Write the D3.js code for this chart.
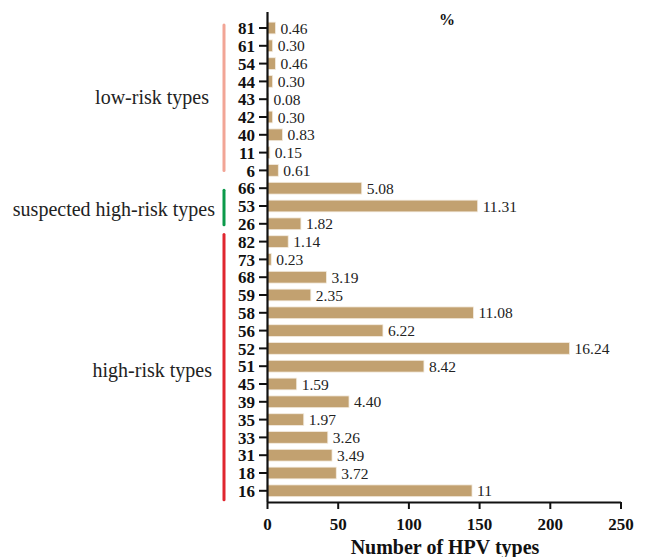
<!DOCTYPE html>
<html><head><meta charset="utf-8">
<script src="https://cdn.jsdelivr.net/npm/d3@7"></script>
<style>body{margin:0;background:#fff}svg{display:block}</style>
</head><body>
<svg id="c" width="646" height="557"></svg>
<script>
const types = ["81","61","54","44","43","42","40","11","6","66","53","26","82","73","68","59","58","56","52","51","45","39","35","33","31","18","16"];
const counts = [6,4,6,4,1,4,11,2,8,67,149,24,15,3,42,31,146,82,214,111,21,58,26,43,46,49,145];
const percents = ["0.46","0.30","0.46","0.30","0.08","0.30","0.83","0.15","0.61","5.08","11.31","1.82","1.14","0.23","3.19","2.35","11.08","6.22","16.24","8.42","1.59","4.40","1.97","3.26","3.49","3.72","11"];
const groupNames = ["low-risk types","suspected high-risk types","high-risk types"];
const groupFirst = ["81","66","82"];
const groupLast = ["6","26","16"];
const groupColors = ["#f2a596","#0b9a4a","#e0262f"];
const xTicks = [0,50,100,150,200,250];

const svg = d3.select("#c");
const serif = "'Liberation Serif','Times New Roman',serif";
const x = d3.scaleLinear().domain([0,250]).range([267,620.5]);
const y = d3.scaleBand().domain(types).range([19.1,499.7]).paddingInner(0.34).paddingOuter(0.17);
const bw = y.bandwidth();

// bars
svg.append("g").selectAll("rect").data(types).join("rect")
  .attr("x", x(0)).attr("y", d=>y(d))
  .attr("width", (d,i)=>x(counts[i])-x(0)).attr("height", bw)
  .attr("fill","#c2a170").attr("stroke","#f3ece0").attr("stroke-width",0.8);

// percent labels
svg.append("g").selectAll("text").data(types).join("text")
  .attr("x",(d,i)=>x(counts[i])+5).attr("y",d=>y(d)+bw/2+5.5)
  .attr("font-family",serif).attr("font-size",15.5).attr("fill","#222")
  .text((d,i)=>percents[i]);

// y axis
const ya = svg.append("g").attr("transform",`translate(${x(0)},0)`)
  .call(d3.axisLeft(y).tickSize(8).tickPadding(4).tickSizeOuter(0));
ya.select(".domain").attr("d",`M0.5,12V502`).attr("stroke","#111").attr("stroke-width",2.2);
ya.selectAll(".tick line").attr("stroke","#111").attr("stroke-width",2);
ya.selectAll(".tick text").attr("font-family",serif).attr("font-size",17).attr("font-weight","bold").attr("fill","#111").attr("dy","0.36em");

// x axis
const xa = svg.append("g").attr("transform","translate(0,502)")
  .call(d3.axisBottom(x).tickValues(xTicks).tickSize(7).tickPadding(9).tickSizeOuter(0));
xa.select(".domain").attr("stroke","#111").attr("stroke-width",2.2);
xa.selectAll(".tick line").attr("stroke","#111").attr("stroke-width",2);
xa.selectAll(".tick text").attr("font-family",serif).attr("font-size",17).attr("font-weight","bold").attr("fill","#111");

// axis title
svg.append("text").attr("x",445).attr("y",554).attr("text-anchor","middle")
  .attr("font-family",serif).attr("font-size",20).attr("font-weight","bold").attr("fill","#111")
  .text("Number of HPV types");
svg.append("text").attr("x",447).attr("y",25).attr("text-anchor","middle")
  .attr("font-family",serif).attr("font-size",16).attr("font-weight","bold").attr("fill","#111")
  .text("%");

// group brackets
const topOff = [3,-2,7], botOff = [0,1,9], labelX = [209,215,212], labelDy = [0,2,4];
groupNames.forEach((g,i)=>{
  const y0 = y(groupFirst[i]) + bw/2 - topOff[i], y1 = y(groupLast[i]) + bw/2 + botOff[i];
  svg.append("line").attr("x1",224).attr("x2",224).attr("y1",y0).attr("y2",y1)
    .attr("stroke",groupColors[i]).attr("stroke-width",3).attr("stroke-linecap","round");
  svg.append("text").attr("x",labelX[i]).attr("y",(y0+y1)/2+6+labelDy[i]).attr("text-anchor","end")
    .attr("font-family",serif).attr("font-size",20).attr("fill","#222").text(g);
});
</script>
</body></html>
